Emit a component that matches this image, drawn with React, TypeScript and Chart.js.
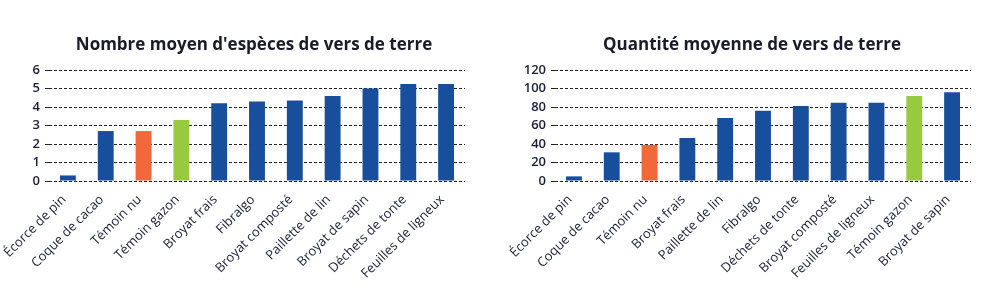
import React, { useEffect, useRef } from "react";
import { Chart, registerables } from "chart.js";
Chart.register(...registerables);

const BLUE = "#184f9c";
const ORANGE = "#f3683a";
const GREEN = "#98ca40";

const speciesTitle = "Nombre moyen d'espèces de vers de terre";
const speciesLabels = ["Écorce de pin", "Coque de cacao", "Témoin nu", "Témoin gazon", "Broyat frais", "Fibralgo", "Broyat composté", "Paillette de lin", "Broyat de sapin", "Déchets de tonte", "Feuilles de ligneux"];
const speciesValues = [0.3, 2.7, 2.7, 3.3, 4.2, 4.3, 4.35, 4.6, 5.0, 5.25, 5.25];
const speciesColors = [BLUE, BLUE, ORANGE, GREEN, BLUE, BLUE, BLUE, BLUE, BLUE, BLUE, BLUE];
const speciesTicks = [0, 1, 2, 3, 4, 5, 6];

const quantityTitle = "Quantité moyenne de vers de terre";
const quantityLabels = ["Écorce de pin", "Coque de cacao", "Témoin nu", "Broyat frais", "Paillette de lin", "Fibralgo", "Déchets de tonte", "Broyat composté", "Feuilles de ligneux", "Témoin gazon", "Broyat de sapin"];
const quantityValues = [5, 31, 39, 46.5, 68, 76, 81, 84.5, 84.5, 92, 96];
const quantityColors = [BLUE, BLUE, ORANGE, BLUE, BLUE, BLUE, BLUE, BLUE, BLUE, GREEN, BLUE];
const quantityTicks = [0, 20, 40, 60, 80, 100, 120];

const FONT = "'Open Sans', 'DejaVu Sans', sans-serif";
const TEXT = "#1a1d38";

function BarChart(props: {
  labels: string[];
  values: number[];
  colors: string[];
  ticks: number[];
  left: number;
  width: number;
  yWidth: number;
  padRight: number;
}) {
  const ref = useRef<HTMLCanvasElement>(null);
  useEffect(() => {
    const ctx = ref.current!;
    const tickMax = props.ticks[props.ticks.length - 1];
    const step = props.ticks[1] - props.ticks[0];
    const chart = new Chart(ctx, {
      type: "bar",
      data: {
        labels: props.labels,
        datasets: [
          {
            data: props.values,
            backgroundColor: props.colors,
            categoryPercentage: 1,
            barPercentage: 0.42,
          },
        ],
      },
      options: {
        animation: false,
        responsive: false,
        maintainAspectRatio: false,
        layout: { padding: { top: 70, right: props.padRight, left: 0, bottom: 0 } },
        plugins: { legend: { display: false }, tooltip: { enabled: false }, title: { display: false } },
        scales: {
          x: {
            grid: { display: false },
            border: { display: false },
            ticks: {
              maxRotation: 45,
              minRotation: 45,
              autoSkip: false,
              padding: 3,
              labelOffset: -4,
              color: TEXT,
              font: { family: FONT, size: 13 },
            },
            afterFit: (s: any) => {
              s.height = 108;
            },
          },
          y: {
            min: 0,
            max: tickMax,
            grid: { color: "#222", lineWidth: 1, drawTicks: true, tickLength: 4 },
            border: { display: false, dash: [3, 2] },
            ticks: {
              stepSize: step,
              autoSkip: false,
              padding: 5,
              color: TEXT,
              font: { family: FONT, size: 13, weight: "600" },
            },
            afterFit: (s: any) => {
              s.width = props.yWidth;
            },
          },
        },
      },
    });
    return () => chart.destroy();
  }, []);
  return (
    <canvas
      ref={ref}
      width={props.width}
      height={289}
      style={{ position: "absolute", left: props.left, top: 0, width: props.width, height: 289 }}
    />
  );
}

function Title(props: { text: string; center: number }) {
  return (
    <div
      style={{
        position: "absolute",
        left: props.center - 250,
        width: 500,
        top: 32,
        textAlign: "center",
        fontFamily: FONT,
        fontWeight: 700,
        fontSize: 17,
        lineHeight: "24px",
        color: "#1a1a2a",
        whiteSpace: "nowrap",
      }}
    >
      {props.text}
    </div>
  );
}

export default function App() {
  return (
    <div style={{ position: "absolute", left: 0, top: 0, width: 985, height: 289, background: "#fff", overflow: "hidden" }}>
      <BarChart labels={speciesLabels} values={speciesValues} colors={speciesColors} ticks={speciesTicks} left={0} width={492} yWidth={49} padRight={27} />
      <BarChart labels={quantityLabels} values={quantityValues} colors={quantityColors} ticks={quantityTicks} left={492} width={493} yWidth={63} padRight={14} />
      <Title text={speciesTitle} center={254} />
      <Title text={quantityTitle} center={752} />
    </div>
  );
}
